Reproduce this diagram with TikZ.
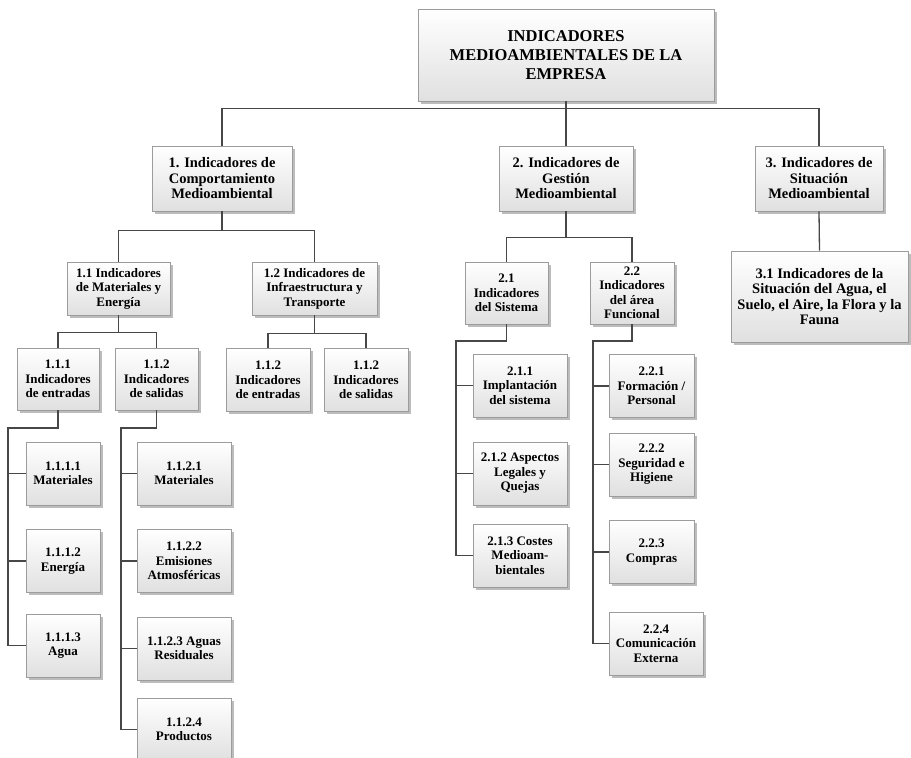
\documentclass[tikz,border=0pt]{standalone}
\usepackage{fontspec}
\setmainfont{Liberation Serif}
\usetikzlibrary{shadows}
\definecolor{boxline}{HTML}{9C9C9C}
\definecolor{boxtop}{HTML}{FFFFFF}
\definecolor{boxbottom}{HTML}{E0E0E0}
\definecolor{linkline}{HTML}{474747}
\definecolor{shadowgray}{HTML}{ABABAB}
\tikzset{
  orgbox/.style={
    draw=boxline,
    line width=0.7pt,
    top color=boxtop,
    bottom color=boxbottom,
    align=center,
    font=\bfseries\fontsize{13}{14.5}\selectfont,
    inner sep=2pt,
    drop shadow={shadow xshift=2.5pt, shadow yshift=-2.5pt, fill=shadowgray, opacity=0.8}
  },
  headbox/.style={orgbox, font=\bfseries\fontsize{14.5}{15.5}\selectfont},
  titlebox/.style={orgbox, font=\bfseries\fontsize{16.5}{19}\selectfont},
  link/.style={draw=linkline, line width=1.3pt}
}

\begin{document}
\begin{tikzpicture}[x=1pt,y=-1pt]
  \useasboundingbox (0,0) rectangle (911,758);

  % Root
  \node[titlebox, minimum width=296, minimum height=92] (title) at (566,55) {INDICADORES\\MEDIOAMBIENTALES DE LA\\EMPRESA};

  % First level
  \node[headbox, minimum width=140, minimum height=65] (ind1) at (222,178.5) {1. Indicadores de\\Comportamiento\\Medioambiental};
  \node[headbox, minimum width=134, minimum height=65] (ind2) at (566,178.5) {2. Indicadores de\\Gestión\\Medioambiental};
  \node[headbox, minimum width=128, minimum height=65] (ind3) at (819,178.5) {3. Indicadores de\\Situación\\Medioambiental};

  % Second level
  \node[orgbox, minimum width=103, minimum height=53] (ind11) at (118.5,288.5) {1.1 Indicadores\\de Materiales y\\Energía};
  \node[orgbox, minimum width=125, minimum height=53] (ind12) at (314.5,288.5) {1.2 Indicadores de\\Infraestructura y\\Transporte};
  \node[orgbox, minimum width=83, minimum height=62] (ind21) at (506.5,293) {2.1\\Indicadores\\del Sistema};
  \node[orgbox, minimum width=84, minimum height=62] (ind22) at (632,293) {2.2\\Indicadores\\del área\\Funcional};
  \node[headbox, minimum width=177, minimum height=91] (ind31) at (819.5,296.5) {3.1 Indicadores de la\\Situación del Agua, el\\Suelo, el Aire, la Flora y la\\Fauna};

  % Third level
  \node[orgbox, minimum width=82, minimum height=62] (ind111) at (58,379) {1.1.1\\Indicadores\\de entradas};
  \node[orgbox, minimum width=83, minimum height=62] (ind112) at (156.5,379) {1.1.2\\Indicadores\\de salidas};
  \node[orgbox, minimum width=84, minimum height=63] (ind121) at (268,380) {1.1.2\\Indicadores\\de entradas};
  \node[orgbox, minimum width=84, minimum height=63] (ind122) at (366,380) {1.1.2\\Indicadores\\de salidas};

  % Leaves 1.1.1
  \node[orgbox, minimum width=74, minimum height=63] (l1111) at (63,473.5) {1.1.1.1\\Materiales};
  \node[orgbox, minimum width=74, minimum height=63] (l1112) at (63,561) {1.1.1.2\\Energía};
  \node[orgbox, minimum width=74, minimum height=63] (l1113) at (63,645.5) {1.1.1.3\\Agua};

  % Leaves 1.1.2
  \node[orgbox, minimum width=94, minimum height=63] (l1121) at (184,473.5) {1.1.2.1\\Materiales};
  \node[orgbox, minimum width=94, minimum height=63] (l1122) at (184,561) {1.1.2.2\\Emisiones\\Atmosféricas};
  \node[orgbox, minimum width=94, minimum height=63] (l1123) at (184,648.5) {1.1.2.3 Aguas\\Residuales};
  \node[orgbox, minimum width=94, minimum height=63] (l1124) at (184,729.5) {1.1.2.4\\Productos};

  % Leaves 2.1
  \node[orgbox, minimum width=94, minimum height=63] (l211) at (520,385.5) {2.1.1\\Implantación\\del sistema};
  \node[orgbox, minimum width=94, minimum height=63] (l212) at (520,473.5) {2.1.2 Aspectos\\Legales y\\Quejas};
  \node[orgbox, minimum width=94, minimum height=63] (l213) at (520,555.5) {2.1.3 Costes\\Medioam-\\bientales};

  % Leaves 2.2
  \node[orgbox, minimum width=85, minimum height=63] (l221) at (651.5,386) {2.2.1\\Formación /\\Personal};
  \node[orgbox, minimum width=85, minimum height=63] (l222) at (651.5,464.5) {2.2.2\\Seguridad e\\Higiene};
  \node[orgbox, minimum width=85, minimum height=63] (l223) at (651.5,552) {2.2.3\\Compras};
  \node[orgbox, minimum width=94, minimum height=63] (l224) at (656,643.5) {2.2.4\\Comunicación\\Externa};

  % spines
  \coordinate (sp111) at (8,428);
  \coordinate (sp112) at (121,428);
  \coordinate (sp21) at (456,341);
  \coordinate (sp22) at (593,341);

  % links
  \draw[link] (title.south) -- ++(0,7) -| (ind1.north);
  \draw[link] (title.south) -- ++(0,7) -| (ind3.north);
  \draw[link] (title.south) -- (ind2.north);

  \draw[link] (ind1.south) -- ++(0,19) -| (ind11.north);
  \draw[link] (ind1.south) -- ++(0,19) -| (ind12.north);
  \draw[link] (ind2.south) -- ++(0,26) -| (ind21.north);
  \draw[link] (ind2.south) -- ++(0,26) -| (ind22.north);
  \draw[link] (ind3.south) -- (ind31.north);

  \draw[link] (ind11.south) -- ++(0,17) -| (ind111.north);
  \draw[link] (ind11.south) -- ++(0,17) -| (ind112.north);
  \draw[link] (ind12.south) -- ++(0,18) -| (ind121.north);
  \draw[link] (ind12.south) -- ++(0,18) -| (ind122.north);

  \draw[link] (ind111.south) |- (sp111) |- (l1113.west);
  \draw[link] (sp111) |- (l1111.west);
  \draw[link] (sp111) |- (l1112.west);

  \draw[link] (ind112.south) |- (sp112) |- (l1124.west);
  \draw[link] (sp112) |- (l1121.west);
  \draw[link] (sp112) |- (l1122.west);
  \draw[link] (sp112) |- (l1123.west);

  \draw[link] (ind21.south) |- (sp21) |- (l213.west);
  \draw[link] (sp21) |- (l211.west);
  \draw[link] (sp21) |- (l212.west);

  \draw[link] (ind22.south) |- (sp22) |- (l224.west);
  \draw[link] (sp22) |- (l221.west);
  \draw[link] (sp22) |- (l222.west);
  \draw[link] (sp22) |- (l223.west);
\end{tikzpicture}
\end{document}
